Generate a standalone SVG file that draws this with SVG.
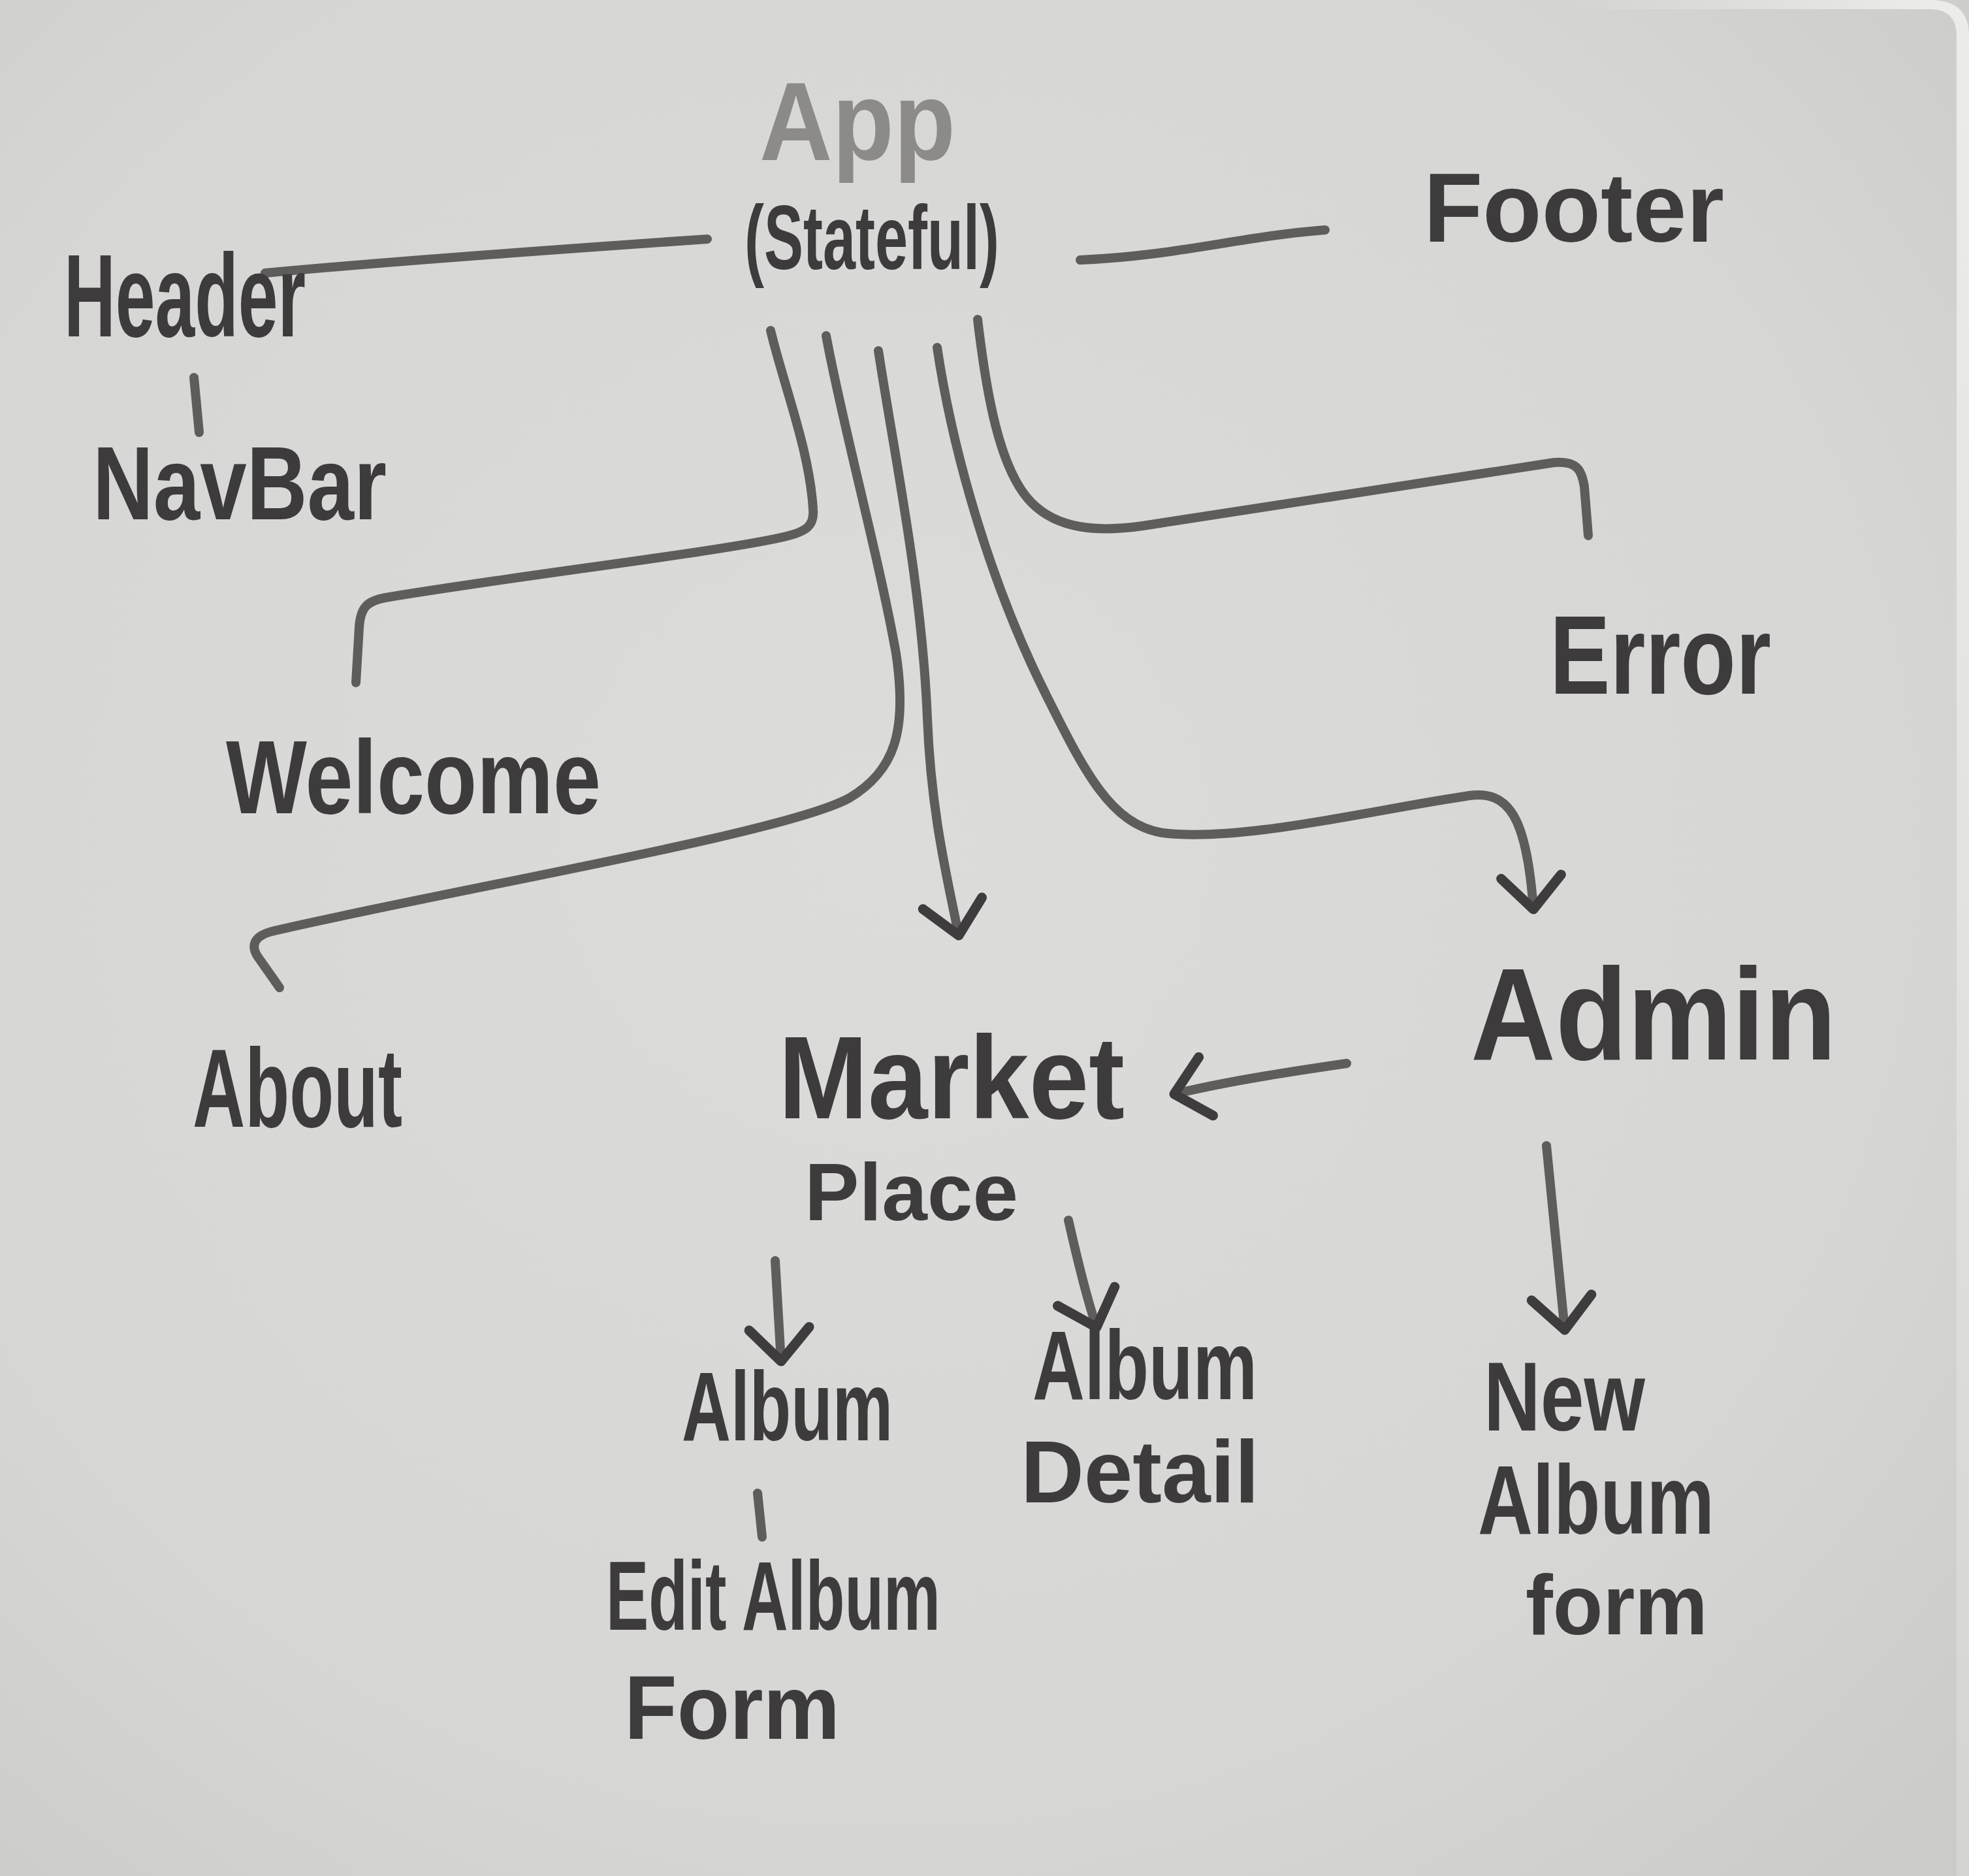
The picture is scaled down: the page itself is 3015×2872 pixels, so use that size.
<svg xmlns="http://www.w3.org/2000/svg" width="3015" height="2872" viewBox="0 0 3015 2872">
  <defs>
    <radialGradient id="board" cx="0.45" cy="0.45" r="0.75">
      <stop offset="0" stop-color="#dcdcda"/>
      <stop offset="0.7" stop-color="#d6d6d4"/>
      <stop offset="1" stop-color="#cbcbc9"/>
    </radialGradient>
    <linearGradient id="edge" x1="0" y1="0" x2="0" y2="1">
      <stop offset="0" stop-color="#ececea"/>
      <stop offset="0.5" stop-color="#e2e2e0"/>
      <stop offset="1" stop-color="#d4d4d2"/>
    </linearGradient>
    <linearGradient id="topedge" x1="0" y1="0" x2="1" y2="0">
      <stop offset="0" stop-color="#ececea" stop-opacity="0"/>
      <stop offset="1" stop-color="#ececea" stop-opacity="1"/>
    </linearGradient>
    <marker id="arrow" markerUnits="userSpaceOnUse" viewBox="-70 -60 85 120" refX="0" refY="0" markerWidth="85" markerHeight="120" orient="auto">
      <path d="M-50,-46 L0,0 L-50,46" fill="none" stroke="#3e3c3c" stroke-width="15" stroke-linecap="round" stroke-linejoin="round"/>
    </marker>
    <style>
      .lbl { font-family: "Liberation Sans", Arial, sans-serif; font-weight: bold; fill: #3d3b3b; }
      .light { fill: #8c8b8a; }
      .con { fill: none; stroke: #5e5d5c; stroke-width: 14; stroke-linecap: round; stroke-linejoin: round; }
      .arr { marker-end: url(#arrow); }
    </style>
  </defs>

  <rect x="0" y="0" width="3015" height="2872" fill="url(#board)"/>
  <rect x="2400" y="0" width="560" height="14" fill="url(#topedge)"/>
  <path d="M2955,0 Q3015,0 3015,55 L3015,2872 L2996,2872 L2996,55 Q2996,14 2955,14 Z" fill="url(#edge)"/>

  <g id="connectors">
    <path class="con" d="M406,418 C600,400 850,382 1083,366"/>
    <path class="con" d="M1654,398 C1800,392 1900,362 2029,352"/>
    <path class="con" d="M297,578 L305,662"/>
    <path class="con" d="M1180,506 C1200,590 1240,690 1245,780 C1247,805 1235,814 1200,822 C1100,845 800,880 590,915 C562,920 552,930 550,960 L545,1045"/>
    <path class="con" d="M1265,514 C1290,650 1345,850 1372,1000 C1390,1120 1370,1180 1300,1222 C1200,1276 700,1360 420,1425 C385,1433 385,1450 395,1465 L428,1512"/>
    <path class="con arr" d="M1345,537 C1370,700 1412,900 1420,1100 C1426,1250 1452,1350 1468,1432"/>
    <path class="con arr" d="M1435,532 C1460,700 1520,900 1600,1060 C1660,1180 1700,1262 1780,1275 C1900,1290 2100,1240 2250,1218 C2310,1210 2338,1250 2348,1392"/>
    <path class="con" d="M1497,489 C1510,600 1530,720 1580,770 C1620,810 1680,815 1750,805 L2380,708 C2415,705 2422,720 2426,745 L2432,820"/>
    <path class="con arr" d="M2062,1628 C1980,1640 1880,1655 1798,1675"/>
    <path class="con arr" d="M2368,1754 L2396,2036"/>
    <path class="con arr" d="M1187,1930 L1196,2084"/>
    <path class="con arr" d="M1636,1868 C1650,1930 1665,1990 1679,2032"/>
    <path class="con" d="M1160,2286 L1167,2353"/>
  </g>

  <g id="node-app">
    <text class="lbl light" x="1163" y="245" font-size="170" textLength="300" lengthAdjust="spacingAndGlyphs">App</text>
    <text class="lbl" x="1140" y="412" font-size="140" textLength="390" lengthAdjust="spacingAndGlyphs">(Stateful)</text>
  </g>
  <g id="node-header">
    <text class="lbl" x="98" y="515" font-size="180" textLength="370" lengthAdjust="spacingAndGlyphs">Header</text>
  </g>
  <g id="node-navbar">
    <text class="lbl" x="142" y="795" font-size="160" textLength="450" lengthAdjust="spacingAndGlyphs">NavBar</text>
  </g>
  <g id="node-footer">
    <text class="lbl" x="2180" y="370" font-size="150" textLength="460" lengthAdjust="spacingAndGlyphs">Footer</text>
  </g>
  <g id="node-welcome">
    <text class="lbl" x="346" y="1245" font-size="160" textLength="574" lengthAdjust="spacingAndGlyphs">Welcome</text>
  </g>
  <g id="node-error">
    <text class="lbl" x="2373" y="1062" font-size="170" textLength="339" lengthAdjust="spacingAndGlyphs">Error</text>
  </g>
  <g id="node-about">
    <text class="lbl" x="295" y="1725" font-size="170" textLength="321" lengthAdjust="spacingAndGlyphs">About</text>
  </g>
  <g id="node-marketplace">
    <text class="lbl" x="1192" y="1712" font-size="180" textLength="530" lengthAdjust="spacingAndGlyphs">Market</text>
    <text class="lbl" x="1232" y="1868" font-size="125" textLength="327" lengthAdjust="spacingAndGlyphs">Place</text>
  </g>
  <g id="node-admin">
    <text class="lbl" x="2252" y="1622" font-size="200" textLength="560" lengthAdjust="spacingAndGlyphs">Admin</text>
  </g>
  <g id="node-album">
    <text class="lbl" x="1044" y="2205" font-size="150" textLength="323" lengthAdjust="spacingAndGlyphs">Album</text>
  </g>
  <g id="node-edit-album-form">
    <text class="lbl" x="928" y="2495" font-size="150" textLength="512" lengthAdjust="spacingAndGlyphs">Edit Album</text>
    <text class="lbl" x="956" y="2662" font-size="140" textLength="330" lengthAdjust="spacingAndGlyphs">Form</text>
  </g>
  <g id="node-album-detail">
    <text class="lbl" x="1581" y="2142" font-size="150" textLength="344" lengthAdjust="spacingAndGlyphs">Album</text>
    <text class="lbl" x="1563" y="2300" font-size="135" textLength="365" lengthAdjust="spacingAndGlyphs">Detail</text>
  </g>
  <g id="node-new-album-form">
    <text class="lbl" x="2272" y="2190" font-size="150" textLength="247" lengthAdjust="spacingAndGlyphs">New</text>
    <text class="lbl" x="2263" y="2348" font-size="150" textLength="362" lengthAdjust="spacingAndGlyphs">Album</text>
    <text class="lbl" x="2336" y="2502" font-size="130" textLength="279" lengthAdjust="spacingAndGlyphs">form</text>
  </g>
</svg>
